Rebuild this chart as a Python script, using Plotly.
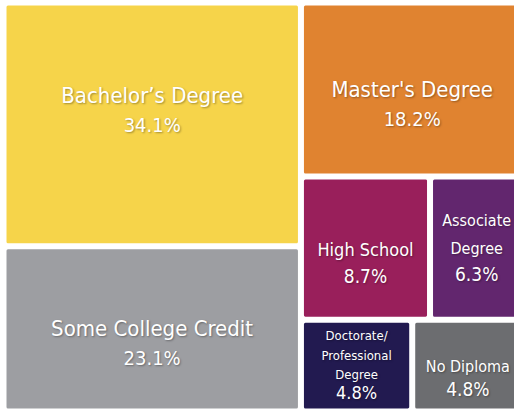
import plotly.graph_objects as go

labels = ["Bachelor's Degree", "Some College Credit", "Master's Degree", "High School",
          "Associate Degree", "Doctorate/ Professional Degree", "No Diploma"]
display = ["Bachelor’s Degree", "Some College Credit", "Master's Degree", "High School",
           "Associate<br>Degree", "Doctorate/<br>Professional<br>Degree", "No Diploma"]
values = [34.1, 23.1, 18.2, 8.7, 6.3, 4.8, 4.8]
colors = ["#F6D44A", "#9D9EA2", "#E08330", "#991F5B", "#62266E", "#221A50", "#6C6D70"]

# styling (not data)
base_sizes = [22, 22, 22, 21, 21, 15, 18]   # controls line spacing
label_sizes = [22, 22, 22, 18, 16, 13, 16]
pct_sizes = [20, 20, 20, 19, 19, 18, 19]
shift = [-1, 1, 1, 1, 0, 0, 1]   # -1: text nudged up, 1: nudged down

BLANK = "<span>\u00a0</span>"
texts = []
for d, v, ls, ps, s in zip(display, values, label_sizes, pct_sizes, shift):
    lab = "<br>".join(f"<span style='font-size:{ls}px'>{part}</span>" for part in d.split("<br>"))
    t = f"{lab}<br><span style='font-size:{ps}px'>{v:.1f}%</span>"
    if s > 0:
        t = BLANK + "<br>" + t
    elif s < 0:
        t = t + "<br>" + BLANK
    texts.append(t)

fig = go.Figure(go.Treemap(
    labels=labels,
    parents=[""] * len(labels),
    values=values,
    text=texts,
    texttemplate="%{text}",
    textposition="middle center",
    textfont=dict(family="DejaVu Sans Condensed, DejaVu Sans", color="white",
                  size=base_sizes, shadow="1px 1px 2px rgba(0,0,0,0.35)"),
    marker=dict(colors=colors, line=dict(color="white", width=3), cornerradius=3,
                pad=dict(t=0, l=0, r=0, b=0)),
    pathbar=dict(visible=False),
    sort=True,
    hoverinfo="label+value",
))
fig.update_layout(width=522, height=410, margin=dict(l=5, r=0, t=4, b=0),
                  paper_bgcolor="white")
fig.write_html("out.html", config={"displayModeBar": False},
               post_script="document.body.style.margin='0';document.body.style.overflow='hidden';")
